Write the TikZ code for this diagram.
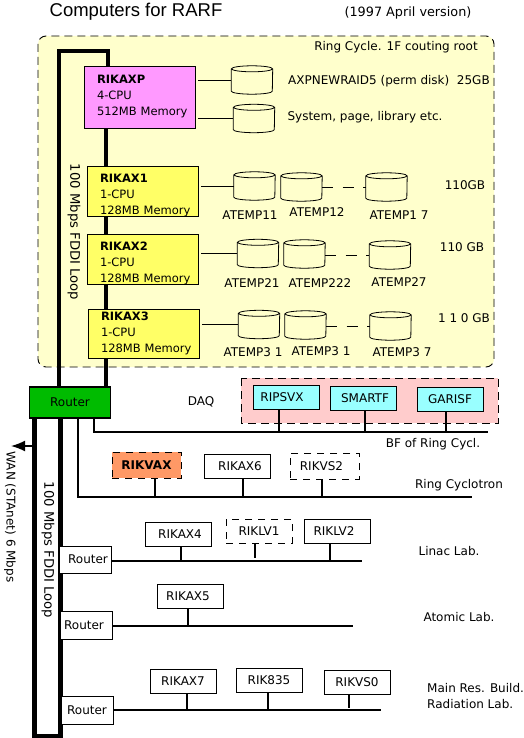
\documentclass[tikz,border=0pt]{standalone}
\usepackage{fontspec}
\setmainfont{DejaVu Sans}
\newfontfamily\titlefont{Liberation Sans}
\usetikzlibrary{arrows.meta}
\definecolor{ringbg}{HTML}{FFFFCC}
\definecolor{daqbg}{HTML}{FFCCCC}
\definecolor{axpfill}{HTML}{FF99FF}
\definecolor{vaxfill}{HTML}{FFFF66}
\definecolor{orangefill}{HTML}{FF9966}
\definecolor{cyanfill}{HTML}{99FFFF}
\definecolor{routerfill}{HTML}{00BB00}
\newcommand{\cpulabel}[3]{\hspace*{13pt}\textbf{#1}\\\hspace*{13pt}#2\\\hspace*{13pt}#3}

\begin{document}
\begin{tikzpicture}[x=1pt,y=-1pt,
  lbl/.style={font=\fontsize{12}{16}\selectfont,inner sep=0pt},
  cpu/.style={draw,line width=0.9pt,align=left,font=\fontsize{11.5}{16}\selectfont,
    text width=111pt,inner xsep=0pt,inner ysep=0pt,minimum height=49pt},
  host/.style={draw,fill=white,line width=0.8pt,font=\fontsize{12}{14}\selectfont,
    minimum width=66pt,minimum height=24pt,inner sep=0pt},
  hostdash/.style={host,dash pattern=on 7pt off 6pt},
  daqhost/.style={host,fill=cyanfill},
  router/.style={draw,fill=white,line width=0.8pt,font=\fontsize{12}{14}\selectfont,
    minimum width=52pt,minimum height=28pt,inner sep=0pt},
  disk/.style={minimum width=41pt,minimum height=28pt,inner sep=0pt,
    append after command={\pgfextra{\draw[line width=0.8pt]
      ([yshift=-3pt]\tikzlastnode.north) ellipse (20.5pt and 3pt)
      ([yshift=-3pt]\tikzlastnode.north west) -- ([yshift=3pt]\tikzlastnode.south west)
      arc[start angle=180,end angle=360,x radius=20.5pt,y radius=3pt]
      -- ([yshift=-3pt]\tikzlastnode.north east);}}},
  link/.style={line width=0.8pt,shorten <=3pt},
  gap/.style={line width=0.8pt,dash pattern=on 11pt off 9.5pt},
  fddi/.style={line width=4.4pt},
  bus/.style={line width=1.6pt},
  stub/.style={line width=1.6pt}]
\useasboundingbox (0,0) rectangle (523,738);
\draw[fill=ringbg,line width=0.9pt,rounded corners=8pt,dash pattern=on 8pt off 5pt]
  (38,36) rectangle (494,367);
\draw[fill=daqbg,line width=0.9pt,dash pattern=on 8pt off 5pt]
  (241,378) rectangle (498,423);
\node[font=\titlefont\fontsize{18.5}{20}\selectfont,inner sep=0pt] (title) at (136,12) {Computers for RARF};
\node[lbl,font=\fontsize{12.8}{16}\selectfont] (version) at (408,13) {(1997 April version)};
\node[lbl] (ringroot) at (396,47) {Ring Cycle. 1F couting root};
% upper machines
\node[cpu,fill=axpfill,minimum height=62pt] (rikaxp) at (139.5,97)
  {\cpulabel{RIKAXP}{4-CPU}{512MB Memory}};
\node[cpu,fill=vaxfill] (rikax1) at (142.5,191.5) {\rule{0pt}{16pt}\cpulabel{RIKAX1}{1-CPU}{128MB Memory}};
\node[cpu,fill=vaxfill] (rikax2) at (142.5,259.5) {\rule{0pt}{16pt}\cpulabel{RIKAX2}{1-CPU}{128MB Memory}};
\node[cpu,fill=vaxfill] (rikax3) at (143.5,333.5) {\cpulabel{RIKAX3}{1-CPU}{128MB Memory}};
\node[disk] (perm) at (252,80) {};
\node[disk] (system) at (254,118.5) {};
\node[disk] (atemp11) at (254.5,186) {};
\node[disk] (atemp12) at (301.5,187) {};
\node[disk] (atemp17) at (386.5,187) {};
\node[disk] (atemp21) at (258,253.5) {};
\node[disk] (atemp22) at (304.5,254) {};
\node[disk] (atemp27) at (390,255) {};
\node[disk] (atemp31) at (259,324.5) {};
\node[disk] (atemp32) at (305.5,325) {};
\node[disk] (atemp37) at (390.5,326) {};
\node[lbl] (permlbl) at (389,81) {AXPNEWRAID5 (perm disk)\ \ 25GB};
\node[lbl] (systemlbl) at (365,117) {System, page, library etc.};
\node[lbl] (lbl11) at (250,215) {ATEMP11};
\node[lbl] (lbl12) at (317,212) {ATEMP12};
\node[lbl] (lbl17) at (399,215) {ATEMP1 7};
\node[lbl] (size1) at (465,185) {110GB};
\node[lbl] (lbl21) at (252,283) {ATEMP21};
\node[lbl] (lbl22) at (320,283) {ATEMP222};
\node[lbl] (lbl27) at (399,282) {ATEMP27};
\node[lbl] (size2) at (462,247) {110 GB};
\node[lbl] (lbl31) at (253,352) {ATEMP3 1};
\node[lbl] (lbl32) at (321,351) {ATEMP3 1};
\node[lbl] (lbl37) at (402,352) {ATEMP3 7};
\node[lbl] (size3) at (464,318) {1 1 0 GB};
\draw[link] (rikaxp.east |- perm.west) -- (perm.west);
\draw[link] (rikaxp.east |- system.west) -- (system.west);
\draw[link] (rikax1.east |- atemp11.west) -- (atemp11.west);
\draw[link] (rikax2.east |- atemp21.west) -- (atemp21.west);
\draw[link] (rikax3.east |- atemp31.west) -- (atemp31.west);
\draw[gap] (atemp12.east) -- (atemp17.west);
\draw[gap] (atemp22.east |- atemp27.west) -- (atemp27.west);
\draw[gap] (atemp32.east |- atemp37.west) -- (atemp37.west);
% FDDI loops
\node[draw,fill=routerfill,line width=1.6pt,font=\fontsize{12}{14}\selectfont,
  minimum width=81pt,minimum height=31pt,inner sep=0pt] (gate) at (70,402.5) {Router};
\coordinate (looptl) at (59,51);
\coordinate (looptr) at (108,51);
\coordinate (trunk) at (106,51);
\coordinate (loopbl) at (34.5,736);
\coordinate (loopbr) at (60.5,736);
\draw[fddi] (gate.north -| looptl) -- (looptl) -- (looptr) -- (looptr |- rikaxp.north);
\draw[fddi] (rikaxp.south -| trunk) -- (rikax1.north -| trunk);
\draw[fddi] (rikax1.south -| trunk) -- (rikax2.north -| trunk);
\draw[fddi] (rikax2.south -| trunk) -- (rikax3.north -| trunk);
\draw[fddi] (rikax3.south -| trunk) -- (gate.north -| trunk);
\draw[fddi] (gate.south -| loopbl) -- (loopbl) -- (loopbr) -- (gate.south -| loopbr);
\node[lbl,rotate=-90,font=\fontsize{13.2}{16}\selectfont] (fddiup) at (74,232) {100 Mbps FDDI Loop};
\node[lbl,rotate=-90,font=\fontsize{13.2}{16}\selectfont] (fddilow) at (48,550) {100 Mbps FDDI Loop};
\node[lbl,rotate=-90] (wanlbl) at (10,517) {WAN (STAnet) 6 Mbps};
\coordinate (wanstart) at (34.5,446);
\coordinate (wanend) at (11,446);
\draw[-{Latex[length=14pt,width=11pt]},line width=1.6pt] (wanstart) -- (wanend);
% local routers
\node[router,minimum height=27pt] (router1) at (85.5,559.5) {\hspace*{5pt}Router};
\node[router] (router2) at (86,625) {\hspace*{-4pt}Router};
\node[router] (router3) at (87,710) {Router};
% buses
\coordinate (bfstart) at (93.7,432);
\coordinate (bfend) at (488,432);
\coordinate (ringstart) at (78,497);
\coordinate (ringend) at (472,497);
\coordinate (linacend) at (362,561);
\coordinate (atomicend) at (353,626);
\coordinate (mainend) at (381,710);
\draw[bus] (gate.south -| bfstart) -- (bfstart) -- (bfend);
\draw[bus] (gate.south -| ringstart) -- (ringstart) -- (ringend);
\draw[bus] (router1.east |- linacend) -- (linacend);
\draw[bus] (router2.east |- atomicend) -- (atomicend);
\draw[bus] (router3.east |- mainend) -- (mainend);
% hosts on the buses
\node[daqhost] (ripsvx) at (286,397.5) {\hspace*{-8pt}RIPSVX};
\node[daqhost] (smartf) at (363,398.5) {\hspace*{4pt}SMARTF};
\node[daqhost] (garisf) at (450,399.5) {GARISF};
\node[hostdash,fill=orangefill,minimum width=69pt,minimum height=26pt,font=\fontsize{12}{14}\selectfont\bfseries] (rikvax) at (146.5,465) {RIKVAX};
\node[host] (rikax6) at (237,466) {\hspace*{6pt}RIKAX6};
\node[hostdash,minimum width=69pt,minimum height=26pt] (rikvs2) at (324.5,466) {\hspace*{-6pt}RIKVS2};
\node[host] (rikax4) at (178,534) {\hspace*{4pt}RIKAX4};
\node[hostdash] (riklv1) at (259,531) {RIKLV1};
\node[host] (riklv2) at (337,531) {\hspace*{-6pt}RIKLV2};
\node[host] (rikax5) at (190,596) {\hspace*{-4pt}RIKAX5};
\node[host] (rikax7) at (183,681) {RIKAX7};
\node[host] (rik835) at (269,680) {RIK835};
\node[host] (rikvs0) at (357,682) {RIKVS0};
\coordinate (s1) at (279,432);
\coordinate (s2) at (365,432);
\coordinate (s3) at (446,432);
\coordinate (s4) at (155,497);
\coordinate (s5) at (243,497);
\coordinate (s6) at (322,497);
\coordinate (s7) at (181,561);
\coordinate (s8) at (255,558);
\coordinate (s9) at (330,561);
\coordinate (s10) at (188,626);
\coordinate (s11) at (187,710);
\coordinate (s12) at (268,710);
\coordinate (s13) at (349,708);
\draw[stub] (ripsvx.south -| s1) -- (s1);
\draw[stub] (smartf.south -| s2) -- (s2);
\draw[stub] (garisf.south -| s3) -- (s3);
\draw[stub] (rikvax.south -| s4) -- (s4);
\draw[stub] (rikax6.south -| s5) -- (s5);
\draw[stub] (rikvs2.south -| s6) -- (s6);
\draw[stub] (rikax4.south -| s7) -- (s7);
\draw[stub] (riklv1.south -| s8) -- (s8);
\draw[stub] (riklv2.south -| s9) -- (s9);
\draw[stub] (rikax5.south -| s10) -- (s10);
\draw[stub] (rikax7.south -| s11) -- (s11);
\draw[stub] (rik835.south -| s12) -- (s12);
\draw[stub] (rikvs0.south -| s13) -- (s13);
% site labels
\node[lbl] (daq) at (201,402) {DAQ};
\node[lbl] (bflbl) at (433,444) {BF of Ring Cycl.};
\node[lbl] (ringlbl) at (459,485) {Ring Cyclotron};
\node[lbl] (linaclbl) at (449,551) {Linac Lab.};
\node[lbl] (atomiclbl) at (459,617) {Atomic Lab.};
\node[lbl,align=left,anchor=west] (mainlbl) at (427,696) {Main Res. Build.\\Radiation Lab.};
\end{tikzpicture}
\end{document}
